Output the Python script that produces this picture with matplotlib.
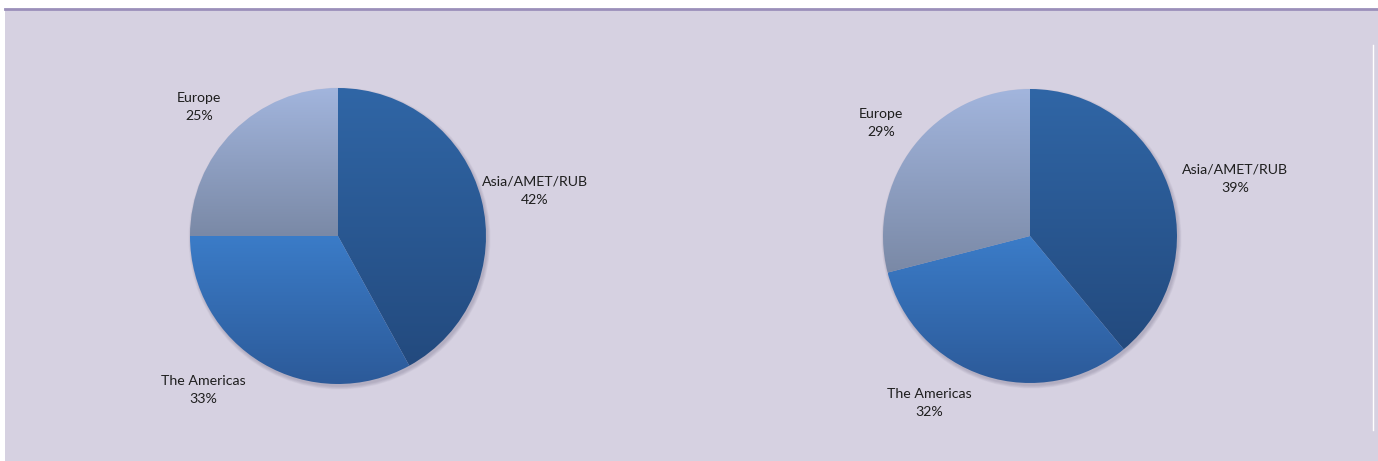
import numpy as np
import matplotlib.pyplot as plt
from matplotlib.patches import Rectangle, Circle
from matplotlib.colors import LinearSegmentedColormap

regions = ['Asia/AMET/RUB', 'The Americas', 'Europe']
share_left = [42, 33, 25]
share_right = [39, 32, 29]

# top / bottom colours of each slice gradient
grad_top = ['#3066a6', '#3b7cc8', '#a2b5dd']
grad_bot = ['#234a7e', '#2c5a99', '#7a89a6']

W, H = 1378, 461
fig = plt.figure(figsize=(W / 100, H / 100), dpi=100, facecolor='white')
ax = fig.add_axes([0, 0, 1, 1])
ax.set_xlim(0, W)
ax.set_ylim(0, H)
ax.set_aspect('equal')
ax.axis('off')

# panel background and top rule
ax.add_patch(Rectangle((5, 0), W - 5, H - 10, facecolor='#d6d1e1', edgecolor='none', zorder=0))
ax.plot([5, W], [H - 9, H - 9], color='#9b8fba', lw=2, zorder=1)
ax.plot([1372.5, 1372.5], [31, 416], color='white', lw=1, zorder=1)


def draw_pie(center, radius, values, label_pos):
    # soft shadow under the pie
    for k in range(6):
        ax.add_patch(Circle((center[0] + 1.5, center[1] - 2.5), radius + 3 - k * 0.6,
                            facecolor='#6a6580', edgecolor='none', alpha=0.06, zorder=2))
    wedges, _ = ax.pie(values, center=center, radius=radius, startangle=90,
                       counterclock=False, frame=True,
                       wedgeprops=dict(linewidth=0, edgecolor='none'))
    for i, w in enumerate(wedges):
        w.set_zorder(3)
        w.set_facecolor('none')
        ext = w.get_path().get_extents()
        cmap = LinearSegmentedColormap.from_list('g%d' % i, [grad_bot[i], grad_top[i]])
        grad = np.linspace(0, 1, 256).reshape(-1, 1)
        im = ax.imshow(grad, cmap=cmap, origin='lower', aspect='auto',
                       extent=[ext.x0, ext.x1, ext.y0, ext.y1], zorder=4,
                       interpolation='bilinear')
        im.set_clip_path(w)
    for i, (lx, ly) in enumerate(label_pos):
        ax.text(lx, ly, '%s\n%d%%' % (regions[i], values[i]), ha='center', va='center',
                fontsize=10.2, family='Lato', color='#1e1e1e', linespacing=1.6, zorder=5)


draw_pie((338, 225), 148, share_left, [(535, 270), (203, 71), (199, 354)])
draw_pie((1030, 225), 147, share_right, [(1235, 282), (929, 58), (881, 338)])

ax.set_xlim(0, W)
ax.set_ylim(0, H)
ax.axis('off')

fig.savefig('out.png', dpi=100, facecolor='white')
